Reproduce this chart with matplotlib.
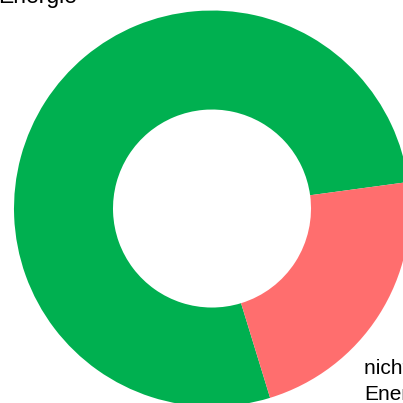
import matplotlib
matplotlib.use("Agg")
import matplotlib.pyplot as plt

plt.rcParams["font.family"] = ["Liberation Sans", "DejaVu Sans"]

labels = ["erneuerbare\nEnergie", "nicht erneuerbare\nEnergie"]
shares = [77.6, 22.4]
colors = ["#00B050", "#FF6E6E"]

fig = plt.figure(figsize=(4.03, 4.03), dpi=100)
ax = fig.add_axes([0, 0, 1, 1])

ax.pie(shares, colors=colors, startangle=7.7, counterclock=True,
       radius=1.0, wedgeprops=dict(width=0.5, linewidth=0))

ax.set_aspect("equal")
ax.set_xlim(-1.0707, 0.9646)
ax.set_ylim(-0.982, 1.053)
ax.axis("off")

# labels sit outside the ring and run off the canvas
ax.text(-1.080, 1.011, labels[0], fontsize=16.5, ha="left", va="bottom",
        linespacing=1.5, color="black")
ax.text(0.768, -0.987, labels[1], fontsize=15, ha="left", va="bottom",
        linespacing=1.45, color="black")

fig.savefig("out.png", dpi=100)
